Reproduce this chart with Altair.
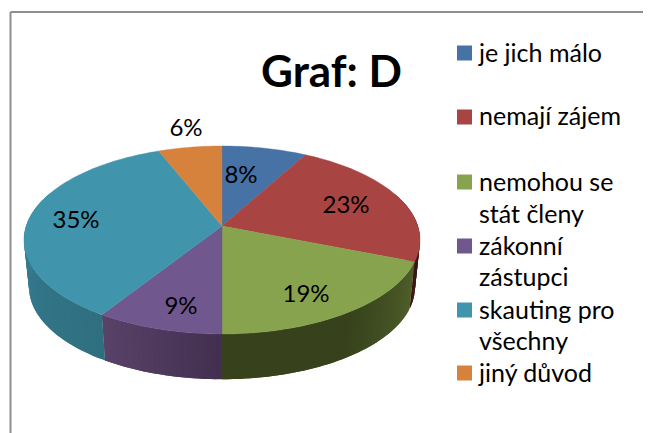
import math
import altair as alt

# --- chart data ---
categories = ["je jich málo", "nemají zájem", "nemohou se stát členy", "zákonní zástupci", "skauting pro všechny", "jiný důvod"]
values = [8, 23, 19, 9, 35, 6]
legend_lines = [["je jich málo"], ["nemají zájem"], ["nemohou se", "stát členy"], ["zákonní", "zástupci"], ["skauting pro", "všechny"], ["jiný důvod"]]
title_text = "Graf: D"

# --- styling / layout ---
OX, OY = 8, 8  # page margin
top_colors = ["#4672a6", "#a84442", "#87a34d", "#70588f", "#4095ad", "#d7823c"]
wall_colors = [("#2a4464", "#2a4464"), ("#4a1c1c", "#3e1514"), ("#50602a", "#37421c"),
               ("#423050", "#5a4268"), ("#2f6f80", "#3f8aa2"), ("#80501f", "#80501f")]
pct_xy = [(241, 176), (346, 206), (306, 295), (181, 307), (76, 221), (186, 129)]
legend_sq_y = [53, 117, 182, 246, 310, 373]
legend_txt_y = [[54], [117], [183, 215], [247, 278], [311, 342], [374]]
TILT = 0.149


def project(theta, cx, cy, kx, ky):
    u, v = math.sin(theta), math.cos(theta)
    w = 1 + TILT * v
    return [cx + kx * u / w - OX, cy - ky * v / w - OY]


def top_pt(t):
    return project(t, 222, 226, 195.8, 91.9)


def bot_pt(t):
    return project(t, 222, 273.5, 190.8, 90)


def feature(ring, color):
    return {"type": "Feature", "properties": {"color": color},
            "geometry": {"type": "Polygon", "coordinates": [ring]}}


def hex_mix(a, b, t):
    ca = [int(a[i:i + 2], 16) for i in (1, 3, 5)]
    cb = [int(b[i:i + 2], 16) for i in (1, 3, 5)]
    return "#" + "".join(f"{round(x + (y - x) * t):02x}" for x, y in zip(ca, cb))


total = sum(values)
edges = [0.0]
for val in values:
    edges.append(edges[-1] + val / total * 2 * math.pi)

wall_feats, top_feats = [], []
for i in range(len(values)):
    a0, a1 = edges[i], edges[i + 1]
    n = max(2, int((a1 - a0) * 40))
    angles = [a0 + (a1 - a0) * j / n for j in range(n + 1)]
    ring = [[222 - OX, 226 - OY]]
    ring += [top_pt(t) for t in angles]
    ring.append(ring[0])
    top_feats.append(feature(ring, top_colors[i]))
    for j in range(n):
        t0, t1 = angles[j], angles[min(j + 2, n)]
        if t1 < math.radians(70) or t0 > math.radians(290):
            continue
        shade = (j + 0.5) / n
        if i == 2:
            shade = min(1.0, shade * 2.0)
        c = hex_mix(wall_colors[i][0], wall_colors[i][1], shade)
        mid = angles[min(j + 1, n)]
        wall_feats.append(feature([top_pt(t0), top_pt(mid), top_pt(t1), bot_pt(t1), bot_pt(mid), bot_pt(t0), top_pt(t0)], c))


def geo_layer(feats, sw):
    data = alt.InlineData(values={"type": "FeatureCollection", "features": feats},
                          format=alt.DataFormat(property="features", type="json"))
    return alt.Chart(data).mark_geoshape(strokeWidth=sw).encode(
        fill=alt.Color("properties.color:N", scale=None, legend=None),
        stroke=alt.Color("properties.color:N", scale=None, legend=None),
    )


def text_layer(rows, **kw):
    return alt.Chart(alt.Data(values=rows)).mark_text(baseline="middle", color="black", font="Lato", **kw).encode(
        longitude="lon:Q", latitude="lat:Q", text="t:N")


pct_rows = [{"lon": x - OX, "lat": y - OY, "t": f"{v}%"} for (x, y), v in zip(pct_xy, values)]
leg_rows = []
for lines, ys in zip(legend_lines, legend_txt_y):
    for line, y in zip(lines, ys):
        leg_rows.append({"lon": 479 - OX, "lat": y - OY, "t": line})
sq_rows = [{"lon": 464.5 - OX, "lat": y - OY, "c": c} for y, c in zip(legend_sq_y, top_colors)]

squares = alt.Chart(alt.Data(values=sq_rows)).mark_square(size=225, opacity=1).encode(
    longitude="lon:Q", latitude="lat:Q",
    fill=alt.Color("c:N", scale=None, legend=None),
)
border_top = alt.Chart(alt.Data(values=[{"a": 1}])).mark_rule(color="#8e8e8e", strokeWidth=2).encode(
    x=alt.value(2.5), x2=alt.value(643), y=alt.value(4))
border_left = alt.Chart(alt.Data(values=[{"a": 1}])).mark_rule(color="#8e8e8e", strokeWidth=2).encode(
    x=alt.value(2.5), y=alt.value(4), y2=alt.value(425))

chart = alt.layer(
    border_top, border_left,
    geo_layer(wall_feats, 0),
    geo_layer(top_feats, 0.4),
    text_layer(pct_rows, fontSize=24, align="center"),
    squares,
    text_layer(leg_rows, fontSize=25, align="left"),
    text_layer([{"lon": 331.5 - OX, "lat": 74 - OY, "t": title_text}], fontSize=44, fontWeight="bold", align="center"),
).project(type="identity", scale=1, translate=[0, 0]).properties(
    width=635, height=425, background="white",
    padding=0, autosize=alt.AutoSizeParams(type="none"),
).configure_view(stroke=None)

chart.save("out.html", embed_options={"renderer": "svg", "actions": False})
